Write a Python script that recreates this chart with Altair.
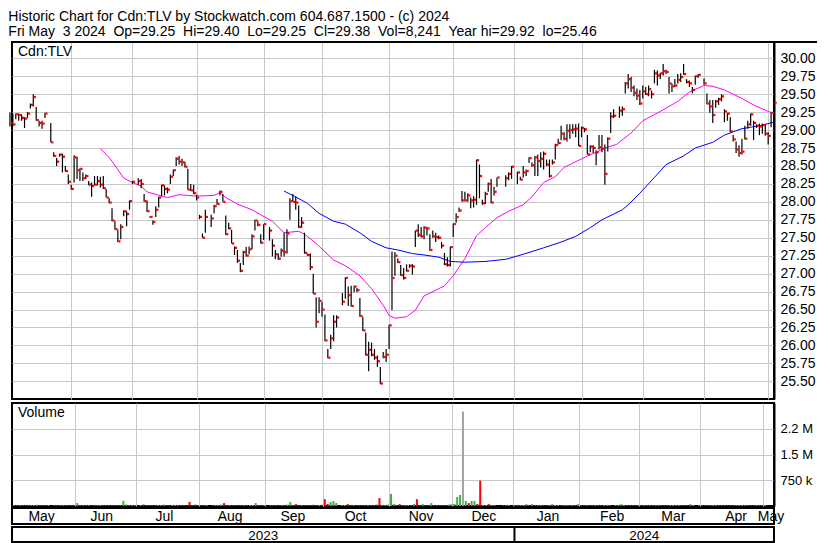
import altair as alt
import pandas as pd

FONT = "Liberation Sans"
NB = "\u00a0\u00a0"
HEADER = [
    "Historic Chart for Cdn:TLV by Stockwatch.com 604.687.1500 - (c) 2024",
    "Fri May" + NB + "3 2024" + NB + "Op=29.25" + NB + "Hi=29.40" + NB + "Lo=29.25" + NB
    + "Cl=29.38" + NB + "Vol=8,241" + NB + "Year hi=29.92" + NB + "lo=25.46",
]
SYMBOL = "Cdn:TLV"
VOL_LABEL = "Volume"

START, END = "2023-05-03", "2024-05-03"
HOLIDAYS = ["2023-05-22", "2023-07-03", "2023-08-07", "2023-09-04", "2023-10-09",
            "2023-12-25", "2023-12-26", "2024-01-01", "2024-02-19", "2024-03-29"]

# one value per trading day, month by month
HIGH = [
    29.25, 29.23, 29.23, 29.23, 29.22, 29.18, 29.25, 29.37, 29.50, 29.32, 29.13, 29.13, 29.24, 29.10, 28.69, 28.61, 28.67, 28.67, 28.50, 28.38,
    28.24, 28.65, 28.63, 28.47, 28.41, 28.38, 28.29, 28.27, 28.36, 28.36, 28.35, 28.36, 28.18, 28.05, 27.91, 27.73, 27.61, 27.69, 27.88, 27.87, 28.02, 28.29,
    28.33, 28.32, 28.11, 28.02, 27.80, 27.74, 27.94, 28.07, 28.24, 28.23, 28.20, 28.38, 28.45, 28.62, 28.64, 28.60, 28.56, 28.46, 28.25, 28.24,
    28.10, 27.82, 27.56, 27.89, 27.82, 27.96, 28.04, 28.16, 28.11, 27.81, 27.71, 27.61, 27.38, 27.33, 27.15, 27.32, 27.37, 27.38, 27.55, 27.75, 27.73, 27.55,
    27.69, 27.65, 27.48, 27.33, 27.28, 27.35, 27.57, 27.62, 28.05, 28.11, 28.07, 27.95, 27.79, 27.57, 27.28, 27.28, 27.00, 26.67, 26.67, 26.60,
    26.43, 25.95, 26.15, 26.42, 26.42, 26.73, 26.95, 26.82, 26.83, 26.83, 26.80, 26.66, 26.40, 26.18, 26.05, 26.04, 25.95, 25.86, 25.70, 25.91, 25.95,
    26.29, 27.31, 27.30, 27.21, 27.12, 27.08, 27.13, 27.13, 27.13, 27.60, 27.69, 27.65, 27.66, 27.65, 27.55, 27.60, 27.57, 27.53, 27.44, 27.29, 27.23, 27.38,
    27.70, 27.84, 27.92, 28.15, 28.14, 28.12, 28.06, 28.08, 28.59, 28.52, 28.03, 28.14, 28.27, 28.32, 28.21, 28.34, 28.37, 28.41, 28.50,
    28.42, 28.35, 28.50, 28.45, 28.62, 28.55, 28.64, 28.66, 28.69, 28.70, 28.59, 28.59, 28.59, 28.81, 28.88, 29.06, 28.97, 29.08, 29.08, 29.08, 29.08, 29.09,
    29.05, 29.03, 28.93, 28.79, 28.79, 28.72, 28.93, 28.93, 28.80, 28.90, 29.25, 29.29, 29.33, 29.33, 29.67, 29.78, 29.74, 29.62, 29.58, 29.56,
    29.62, 29.60, 29.62, 29.55, 29.84, 29.83, 29.80, 29.92, 29.84, 29.74, 29.65, 29.71, 29.78, 29.79, 29.92, 29.71, 29.69, 29.60, 29.76, 29.78,
    29.72, 29.51, 29.42, 29.42, 29.42, 29.45, 29.50, 29.29, 29.24, 29.18, 28.93, 28.84, 28.79, 28.88, 29.06, 29.13, 29.23, 29.13, 29.08, 29.09, 29.09, 29.08,
    28.97, 29.24, 29.40,
]
LOW = [
    29.05, 29.05, 29.15, 29.13, 29.13, 29.03, 29.17, 29.30, 29.33, 29.13, 29.05, 29.02, 29.17, 28.83, 28.63, 28.50, 28.63, 28.41, 28.42, 28.25,
    28.17, 28.27, 28.32, 28.29, 28.29, 28.32, 28.23, 28.07, 28.23, 28.23, 28.20, 28.18, 28.06, 27.98, 27.73, 27.61, 27.44, 27.48, 27.80, 27.66, 27.89, 28.25,
    28.24, 28.19, 28.00, 27.86, 27.78, 27.68, 27.79, 27.92, 28.08, 28.09, 28.12, 28.25, 28.36, 28.50, 28.52, 28.50, 28.48, 28.17, 28.15, 28.11,
    28.02, 27.76, 27.50, 27.57, 27.65, 27.84, 27.96, 28.09, 28.00, 27.54, 27.62, 27.42, 27.26, 27.15, 27.02, 27.12, 27.24, 27.27, 27.34, 27.60, 27.66, 27.42,
    27.47, 27.46, 27.24, 27.20, 27.19, 27.24, 27.24, 27.28, 27.75, 28.00, 27.89, 27.64, 27.64, 27.28, 27.25, 27.05, 26.72, 26.25, 26.45, 26.40,
    26.06, 25.82, 25.95, 26.06, 26.25, 26.56, 26.65, 26.55, 26.54, 26.74, 26.74, 26.40, 26.20, 25.86, 25.64, 25.85, 25.80, 25.70, 25.46, 25.82, 25.77,
    25.95, 26.49, 26.97, 27.15, 26.97, 26.92, 27.03, 27.08, 26.99, 27.37, 27.51, 27.50, 27.48, 27.53, 27.32, 27.50, 27.44, 27.48, 27.35, 27.12, 27.10, 27.10,
    27.51, 27.71, 27.86, 28.00, 28.01, 28.00, 27.91, 27.92, 27.96, 28.05, 27.96, 27.97, 28.14, 27.98, 28.09, 28.21, 28.21, 28.30, 28.32,
    28.25, 28.30, 28.34, 28.36, 28.54, 28.49, 28.36, 28.36, 28.48, 28.45, 28.50, 28.34, 28.52, 28.59, 28.80, 28.86, 28.86, 28.84, 28.88, 28.95, 28.90, 28.78,
    28.90, 28.97, 28.66, 28.69, 28.68, 28.51, 28.73, 28.69, 28.24, 28.70, 28.96, 29.17, 29.17, 29.20, 29.51, 29.58, 29.53, 29.47, 29.42, 29.35,
    29.44, 29.49, 29.47, 29.44, 29.65, 29.62, 29.71, 29.76, 29.78, 29.51, 29.53, 29.60, 29.65, 29.67, 29.77, 29.65, 29.60, 29.51, 29.63, 29.73,
    29.63, 29.36, 29.24, 29.10, 29.31, 29.35, 29.40, 29.11, 29.13, 28.97, 28.84, 28.68, 28.63, 28.66, 28.87, 29.02, 29.06, 28.86, 29.03, 28.93, 28.95, 28.92,
    28.80, 29.04, 29.25,
]
CLOSE = [
    29.10, 29.08, 29.22, 29.21, 29.17, 29.16, 29.23, 29.35, 29.46, 29.14, 29.10, 29.09, 29.23, 28.83, 28.64, 28.56, 28.66, 28.63, 28.43, 28.28,
    28.18, 28.62, 28.44, 28.46, 28.33, 28.36, 28.24, 28.22, 28.24, 28.29, 28.24, 28.19, 28.06, 27.99, 27.74, 27.62, 27.45, 27.65, 27.87, 27.83, 28.01, 28.28,
    28.29, 28.25, 28.01, 27.87, 27.79, 27.72, 27.89, 28.06, 28.23, 28.18, 28.17, 28.35, 28.44, 28.60, 28.56, 28.55, 28.49, 28.17, 28.16, 28.12,
    28.06, 27.79, 27.50, 27.79, 27.77, 27.94, 27.97, 28.14, 28.00, 27.55, 27.63, 27.42, 27.36, 27.18, 27.04, 27.30, 27.25, 27.34, 27.52, 27.74, 27.68, 27.43,
    27.69, 27.60, 27.39, 27.27, 27.21, 27.32, 27.30, 27.56, 28.01, 28.00, 27.99, 27.65, 27.71, 27.29, 27.26, 27.09, 26.72, 26.33, 26.62, 26.50,
    26.07, 25.83, 26.10, 26.33, 26.39, 26.61, 26.94, 26.70, 26.55, 26.82, 26.77, 26.41, 26.21, 25.87, 25.94, 25.87, 25.83, 25.78, 25.47, 25.84, 25.87,
    26.28, 26.94, 27.25, 27.16, 26.98, 26.94, 27.04, 27.11, 27.10, 27.60, 27.54, 27.52, 27.64, 27.63, 27.33, 27.52, 27.51, 27.50, 27.39, 27.13, 27.12, 27.37,
    27.69, 27.79, 27.88, 28.02, 28.02, 28.09, 28.02, 28.03, 28.58, 28.36, 27.98, 28.11, 28.25, 27.99, 28.14, 28.34, 28.33, 28.39, 28.49,
    28.41, 28.31, 28.41, 28.43, 28.61, 28.51, 28.62, 28.57, 28.60, 28.67, 28.52, 28.36, 28.55, 28.79, 28.82, 28.95, 28.88, 28.99, 29.00, 29.01, 29.02, 28.78,
    29.03, 29.01, 28.66, 28.77, 28.75, 28.69, 28.76, 28.74, 28.39, 28.88, 29.19, 29.20, 29.27, 29.29, 29.65, 29.71, 29.59, 29.52, 29.48, 29.37,
    29.54, 29.50, 29.57, 29.50, 29.79, 29.76, 29.79, 29.82, 29.81, 29.65, 29.61, 29.62, 29.70, 29.74, 29.78, 29.67, 29.65, 29.56, 29.75, 29.77,
    29.65, 29.37, 29.33, 29.21, 29.40, 29.43, 29.47, 29.26, 29.23, 28.98, 28.87, 28.73, 28.68, 28.70, 28.88, 29.08, 29.22, 29.10, 29.06, 29.05, 29.07, 28.95,
    28.92, 29.24, 29.38,
]
VOLUME_K = [
    25, 30, 25, 30, 25, 30, 25, 30, 35, 30, 25, 25, 30, 30, 25, 30, 25, 30, 25, 30,
    30, 85, 30, 25, 30, 25, 30, 30, 25, 30, 25, 30, 30, 25, 30, 30, 25, 150, 45, 30, 30, 25,
    30, 45, 30, 30, 25, 30, 30, 25, 40, 30, 25, 30, 30, 25, 30, 30, 25, 120, 30, 40,
    30, 25, 30, 30, 25, 30, 30, 40, 85, 30, 25, 30, 30, 25, 30, 30, 25, 30, 30, 85, 30, 25,
    30, 25, 30, 30, 25, 30, 30, 40, 115, 30, 55, 30, 25, 30, 30, 30, 35, 30, 30, 35,
    200, 60, 115, 145, 90, 30, 30, 55, 30, 30, 25, 30, 30, 30, 30, 30, 30, 40, 230, 30, 30,
    40, 350, 60, 30, 55, 30, 30, 30, 30, 60, 200, 30, 55, 30, 30, 85, 30, 30, 30, 30, 30, 40,
    55, 60, 260, 320, 2750, 145, 85, 145, 145, 60, 740, 30, 30, 55, 30, 25, 30, 25, 30,
    30, 25, 30, 30, 55, 30, 55, 30, 25, 30, 30, 25, 30, 55, 30, 30, 25, 30, 30, 25, 30, 30,
    55, 30, 25, 30, 30, 25, 30, 30, 25, 30, 30, 25, 30, 30, 55, 30, 25, 30, 30, 25,
    30, 25, 30, 30, 25, 30, 30, 25, 30, 30, 25, 30, 30, 25, 30, 30, 25, 30, 55, 30,
    30, 25, 30, 30, 25, 30, 30, 25, 30, 30, 25, 30, 30, 25, 30, 30, 25, 30, 30, 25, 30, 30,
    30, 30, 8,
]

MA30_DATES = ["2023-06-15", "2023-06-20", "2023-06-23", "2023-06-27", "2023-06-30", "2023-07-05", "2023-07-07",
              "2023-07-14", "2023-07-18", "2023-07-20", "2023-07-24", "2023-07-27", "2023-08-01", "2023-08-09",
              "2023-08-11", "2023-08-15", "2023-08-21", "2023-08-28", "2023-08-31", "2023-09-06", "2023-09-07",
              "2023-09-12", "2023-09-19", "2023-09-21", "2023-09-27", "2023-10-05", "2023-10-11", "2023-10-18",
              "2023-10-24", "2023-10-30", "2023-11-01", "2023-11-03", "2023-11-09", "2023-11-14", "2023-11-17",
              "2023-11-24", "2023-11-28", "2023-12-01", "2023-12-07", "2023-12-13", "2023-12-18", "2023-12-22",
              "2023-12-28", "2024-01-04", "2024-01-09", "2024-01-15", "2024-01-19", "2024-01-24", "2024-01-29",
              "2024-02-05", "2024-02-08", "2024-02-13", "2024-02-19", "2024-02-26", "2024-03-01", "2024-03-11",
              "2024-03-19", "2024-03-25", "2024-04-01", "2024-04-04", "2024-04-10", "2024-04-18", "2024-04-24",
              "2024-05-01", "2024-05-03"]
MA30_VALUES = [28.74, 28.62, 28.45, 28.33, 28.27, 28.22, 28.14,
               28.08, 28.06, 28.08, 28.10, 28.09, 28.08, 28.09,
               28.13, 28.06, 27.97, 27.89, 27.82, 27.73, 27.69,
               27.57, 27.59, 27.55, 27.42, 27.19, 27.11, 26.97,
               26.79, 26.56, 26.42, 26.38, 26.40, 26.49, 26.69,
               26.79, 26.83, 26.97, 27.21, 27.53, 27.64, 27.78,
               27.87, 27.96, 28.07, 28.27, 28.35, 28.48, 28.54,
               28.64, 28.69, 28.75, 28.80, 28.96, 29.13, 29.26,
               29.40, 29.53, 29.62, 29.61, 29.56, 29.44, 29.35,
               29.26, 29.23]
MA90_DATES = ["2023-09-12", "2023-09-15", "2023-09-22", "2023-09-28", "2023-10-05", "2023-10-11", "2023-10-18",
              "2023-10-24", "2023-10-31", "2023-11-06", "2023-11-13", "2023-11-17", "2023-11-24", "2023-11-30",
              "2023-12-07", "2023-12-18", "2023-12-27", "2024-01-04", "2024-01-15", "2024-01-23", "2024-01-30",
              "2024-02-06", "2024-02-12", "2024-02-16", "2024-02-21", "2024-02-23", "2024-02-29", "2024-03-07",
              "2024-03-13", "2024-03-21", "2024-03-27", "2024-04-04", "2024-04-10", "2024-04-18", "2024-04-26",
              "2024-05-03"]
MA90_VALUES = [28.15, 28.09, 27.98, 27.84, 27.73, 27.69, 27.57,
               27.45, 27.36, 27.33, 27.28, 27.26, 27.23, 27.17,
               27.16, 27.17, 27.20, 27.27, 27.36, 27.44, 27.52,
               27.64, 27.75, 27.83, 27.89, 27.96, 28.12, 28.34,
               28.52, 28.64, 28.75, 28.83, 28.93, 29.02, 29.06,
               29.11]

PRICE_TICKS = [25.50, 25.75, 26.00, 26.25, 26.50, 26.75, 27.00, 27.25, 27.50, 27.75,
               28.00, 28.25, 28.50, 28.75, 29.00, 29.25, 29.50, 29.75, 30.00]
VOL_TICKS = [750000, 1500000, 2250000]
MONTHS = ["May", "Jun", "Jul", "Aug", "Sep", "Oct", "Nov", "Dec", "Jan", "Feb", "Mar", "Apr", "May"]
YEARS = ["2023", "2024"]

GRID = "#c8c8c8"
UP, DOWN, FLAT = "#3cb43c", "#ff0000", "#a0a0a0"
FRAME = alt.ViewBackground(stroke="black", strokeWidth=2, fill="white")

# ---- layout ----
W = 762
RULE_W = 805
H_PRICE = 357
H_VOL = 103
H_MONTH = 16
H_YEAR = 15
X_MIN, X_MAX = 0.7, 262.0

weekdays = pd.bdate_range(START, END)
wk_pos = {d.strftime("%Y-%m-%d"): i for i, d in enumerate(weekdays)}
trading = [d for d in weekdays if d.strftime("%Y-%m-%d") not in HOLIDAYS]

direction = []
for k, c in enumerate(CLOSE):
    if k == 0:
        direction.append("up")
    elif c == CLOSE[k - 1]:
        direction.append("flat")
    else:
        direction.append("up" if c > CLOSE[k - 1] else "down")

df = pd.DataFrame({
    "i": [wk_pos[d.strftime("%Y-%m-%d")] for d in trading],
    "high": HIGH, "low": LOW, "close": CLOSE,
    "volume": [v * 1000 for v in VOLUME_K],
    "dir": direction,
})
ma30 = pd.DataFrame({"i": [wk_pos[d] for d in MA30_DATES], "v": MA30_VALUES})
ma90 = pd.DataFrame({"i": [wk_pos[d] for d in MA90_DATES], "v": MA90_VALUES})

month_starts = pd.date_range("2023-06-01", "2024-05-01", freq="MS")
BOUNDS = [int(weekdays.searchsorted(m, side="right") - 1) for m in month_starts]
edges = [X_MIN] + BOUNDS + [X_MAX]
months_df = pd.DataFrame({"name": MONTHS,
                          "pos": [(edges[k] + edges[k + 1]) / 2 for k in range(len(MONTHS))]})
jan_pos = BOUNDS[7]
years_df = pd.DataFrame({"name": YEARS, "pos": [(X_MIN + jan_pos) / 2, (jan_pos + X_MAX) / 2]})

xscale = alt.Scale(domain=[X_MIN, X_MAX], nice=False, zero=False)
x_axis = alt.Axis(values=BOUNDS, grid=True, labels=False, ticks=False, domain=False,
                  title=None, gridColor=GRID, gridWidth=1)
X = alt.X("i:Q", scale=xscale, axis=x_axis)

pscale = alt.Scale(domain=[25.254, 30.227], nice=False, zero=False)
p_axis = alt.Axis(orient="right", values=PRICE_TICKS, format=".2f", title=None, ticks=False,
                  domainColor="black", domainWidth=2, gridColor=GRID, gridWidth=1, grid=True,
                  labelFontSize=14, labelColor="black", labelPadding=6, labelFont=FONT)

line30 = alt.Chart(ma30).mark_line(color="#ff00ff", strokeWidth=1).encode(
    x=X, y=alt.Y("v:Q", scale=pscale, axis=p_axis))
line90 = alt.Chart(ma90).mark_line(color="#0000ff", strokeWidth=1).encode(
    x=X, y=alt.Y("v:Q", scale=pscale, axis=p_axis))
hl = alt.Chart(df).mark_rule(color="black", strokeWidth=1.2).encode(
    x=X, y=alt.Y("low:Q", scale=pscale, axis=p_axis), y2="high:Q")
closes = alt.Chart(df).mark_square(color="#ff0000", size=5, opacity=1, xOffset=1.5).encode(
    x=X, y=alt.Y("close:Q", scale=pscale, axis=p_axis))
sym = alt.Chart(pd.DataFrame({"t": [SYMBOL]})).mark_text(
    align="left", baseline="top", font=FONT, fontSize=14, color="black").encode(
    x=alt.value(6), y=alt.value(3), text="t:N")
# header separator running across the full width
top_rule = alt.Chart(pd.DataFrame({"t": [0]})).mark_rule(color="black", strokeWidth=2).encode(
    x=alt.value(0), x2=alt.value(RULE_W), y=alt.value(0))

price = alt.layer(line30, line90, hl, closes, sym, top_rule).properties(width=W, height=H_PRICE, view=FRAME)

v_axis = alt.Axis(orient="right", values=VOL_TICKS, title=None, ticks=False, grid=True,
                  domainColor="black", domainWidth=2, gridColor=GRID, gridWidth=1,
                  labelFontSize=13, labelColor="black", labelPadding=6, labelFont=FONT,
                  labelExpr="datum.value >= 1000000 ? format(floor(datum.value / 100000) / 10, '.1f') + ' M' : format(datum.value / 1000, 'd') + ' k'")
vbars = alt.Chart(df).mark_bar(size=2, xOffset=-1).encode(
    x=X,
    y=alt.Y("volume:Q", scale=alt.Scale(domain=[0, 3000000], nice=False), axis=v_axis),
    color=alt.Color("dir:N", scale=alt.Scale(domain=["up", "down", "flat"], range=[UP, DOWN, FLAT]), legend=None),
)
vlab = alt.Chart(pd.DataFrame({"t": [VOL_LABEL]})).mark_text(
    align="left", baseline="top", font=FONT, fontSize=14, color="black").encode(
    x=alt.value(6), y=alt.value(3), text="t:N")
volume = alt.layer(vbars, vlab).properties(width=W, height=H_VOL, view=FRAME)

month_row = alt.Chart(months_df).mark_text(font=FONT, fontSize=14, color="black", baseline="middle").encode(
    x=alt.X("pos:Q", scale=xscale, axis=None), y=alt.value(H_MONTH / 2 + 1), text="name:N"
).properties(width=W, height=H_MONTH, view=FRAME)

year_text = alt.Chart(years_df).mark_text(font=FONT, fontSize=13.5, color="black", baseline="middle").encode(
    x=alt.X("pos:Q", scale=xscale, axis=None), y=alt.value(H_YEAR / 2 + 1), text="name:N")
year_div = alt.Chart(pd.DataFrame({"pos": [jan_pos]})).mark_rule(color="black", strokeWidth=2).encode(
    x=alt.X("pos:Q", scale=xscale, axis=None), y=alt.value(0), y2=alt.value(H_YEAR))
year_row = alt.layer(year_div, year_text).properties(width=W, height=H_YEAR, view=FRAME)

lower = alt.vconcat(volume, month_row, year_row, spacing=0)
chart = alt.vconcat(price, lower, spacing=2).properties(
    title=alt.Title(HEADER, anchor="start", font=FONT, fontSize=14, fontWeight="normal",
                    color="black", lineHeight=15, offset=1),
    padding={"top": 2, "left": 0, "right": 0, "bottom": 0},
).configure(font=FONT, background="white")

chart.save("out.html", embed_options={"renderer": "svg", "actions": False})
